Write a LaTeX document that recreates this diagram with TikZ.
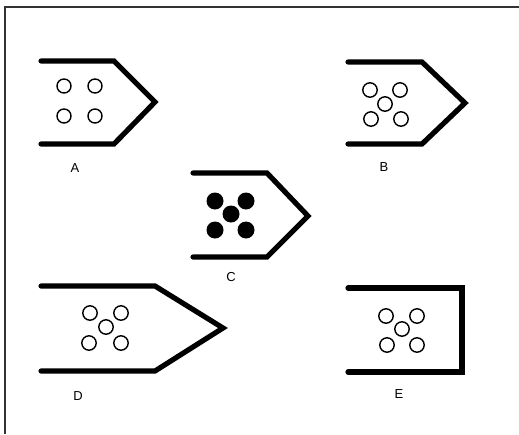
\documentclass[tikz,border=0pt]{standalone}
\usepackage{fontspec}
\setmainfont{Liberation Sans}
\begin{document}
\begin{tikzpicture}[x=1pt,y=-1pt,
  shell/.style={line width=5.2pt,line join=miter,line cap=round},
  hole/.style={draw,line width=1.4pt,fill=white},
  ball/.style={fill=black},
  lbl/.style={font=\fontsize{13}{15}\selectfont,inner sep=0pt}]
\useasboundingbox (0,0) rectangle (519,434);
% frame
\draw[line width=1.3pt,black!80] (519,7) -- (5,7) -- (5,434);
% A
\draw[shell] (41,61) -- (114,61) -- (155,102) -- (114,144) -- (41,144);
\foreach \p in {(64,86),(95,86),(64,116),(95,116)} \draw[hole] \p circle (7);
\node[lbl] (la) at (75,168) {A};
% B
\draw[shell] (348,62) -- (422,62) -- (465,103) -- (422,144) -- (348,144);
\foreach \p in {(370,90),(400,90),(385,104),(371,119),(401,119)} \draw[hole] \p circle (7.2);
\node[lbl] (lb) at (384,167) {B};
% C
\draw[shell] (193,173) -- (267,173) -- (308,216) -- (267,257) -- (193,257);
\foreach \p in {(215,201),(246,201),(231,214),(215,230),(246,230)} \fill[ball] \p circle (8.5);
\node[lbl] (lc) at (231,277) {C};
% D
\draw[shell] (41,286) -- (155,286) -- (223,328) -- (155,371) -- (41,371);
\foreach \p in {(90,313),(121,313),(106,327),(89,343),(121,343)} \draw[hole] \p circle (7.2);
\node[lbl] (ld) at (78,396) {D};
% E
\draw[shell] (348,288) -- (462,288) -- (462,372) -- (348,372);
\foreach \p in {(386,316),(417,316),(402,329),(387,345),(417,345)} \draw[hole] \p circle (7.2);
\node[lbl] (le) at (399,394) {E};
\end{tikzpicture}
\end{document}
